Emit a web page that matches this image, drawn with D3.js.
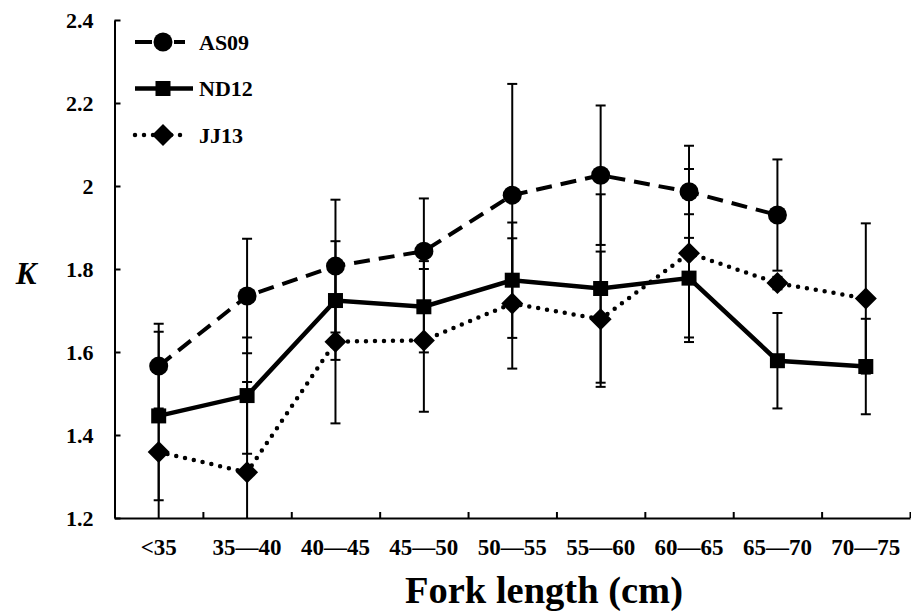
<!DOCTYPE html>
<html>
<head>
<meta charset="utf-8">
<script src="https://cdn.jsdelivr.net/npm/d3@7"></script>
<style>
  body { margin: 0; background: #fff; }
  svg text { font-family: "Liberation Serif", "Times New Roman", serif; font-weight: bold; fill: #000; }
</style>
</head>
<body>
<svg id="chart"></svg>
<script>
var width = 911;
var height = 611;

// fork length classes
var categories = ["<35", "35\u201440", "40\u201445", "45\u201450", "50\u201455", "55\u201460", "60\u201465", "65\u201470", "70\u201475"];

// condition factor K, mean and sd per class
var as09 = [1.566, 1.735, 1.807, 1.843, 1.978, 2.026, 1.986, 1.930, null];
var as09Sd = [0.102, 0.138, 0.160, 0.127, 0.268, 0.168, 0.111, 0.134, null];
var nd12 = [1.446, 1.495, 1.724, 1.709, 1.773, 1.753, 1.778, 1.579, 1.565];
var nd12Sd = [0.203, 0.140, 0.143, 0.110, 0.139, 0.227, 0.154, 0.115, 0.115];
var jj13 = [1.359, 1.310, 1.625, 1.628, 1.717, 1.679, 1.838, 1.766, 1.729];
var jj13Sd = [0.205, 0.218, 0.197, 0.172, 0.157, 0.163, 0.203, 0.015, 0.181];

var yTicks = [1.2, 1.4, 1.6, 1.8, 2, 2.2, 2.4];
var seriesNames = ["AS09", "ND12", "JJ13"];

// plot box (not "top": that name is taken by window.top)
var plotLeft = 114.5, plotRight = 910, plotTop = 20, plotBottom = 518;

var svg = d3.select("#chart")
    .attr("width", width)
    .attr("height", height);

var x = d3.scaleBand().domain(categories).range([plotLeft, plotRight]).padding(0);
var xIdx = d3.scaleLinear().domain([0, categories.length]).range([plotLeft, plotRight]);
var y = d3.scaleLinear().domain([1.2, 2.4]).range([plotBottom, plotTop]);

var series = [
    { name: seriesNames[0], mean: as09, sd: as09Sd, dash: "16,9", width: 4, cap: "butt", marker: "circle" },
    { name: seriesNames[1], mean: nd12, sd: nd12Sd, dash: null, width: 4.5, cap: "butt", marker: "square" },
    { name: seriesNames[2], mean: jj13, sd: jj13Sd, dash: "0,9", width: 4.5, cap: "round", marker: "diamond" }
];

series.forEach(function(s) {
    s.points = s.mean.map(function(m, i) {
        return { cat: categories[i], mean: m, sd: s.sd[i] };
    }).filter(function(p) { return p.mean != null; });
});

// clip for error bars hanging below the axis
svg.append("defs").append("clipPath").attr("id", "plotClip")
    .append("rect")
    .attr("x", plotLeft).attr("y", 0)
    .attr("width", plotRight - plotLeft).attr("height", plotBottom);

// error bars
var errG = svg.append("g").attr("clip-path", "url(#plotClip)")
    .attr("stroke", "#000").attr("stroke-width", 2).attr("fill", "none");

series.forEach(function(s) {
    var g = errG.append("g");
    s.points.forEach(function(p) {
        var cx = x(p.cat) + x.bandwidth() / 2;
        var y1 = y(p.mean + p.sd), y2 = y(p.mean - p.sd);
        g.append("line").attr("x1", cx).attr("x2", cx).attr("y1", y1).attr("y2", y2);
        g.append("line").attr("x1", cx - 5).attr("x2", cx + 5).attr("y1", y1).attr("y2", y1);
        g.append("line").attr("x1", cx - 5).attr("x2", cx + 5).attr("y1", y2).attr("y2", y2);
    });
});

// axes
var yAxis = d3.axisLeft(y)
    .tickValues(yTicks)
    .tickFormat(d3.format("~g"))
    .tickSize(-6)
    .tickSizeOuter(0)
    .tickPadding(21);

var yG = svg.append("g")
    .attr("transform", "translate(" + plotLeft + ",0)")
    .call(yAxis);
yG.select(".domain").attr("stroke-width", 2);
yG.selectAll(".tick line").attr("stroke-width", 2);
yG.selectAll("text").attr("font-size", 22).attr("dy", "0.34em")
    .attr("font-family", "'Liberation Serif', serif").attr("font-weight", "bold");

var xAxis = d3.axisBottom(xIdx)
    .tickValues(d3.range(1, categories.length + 1))
    .tickFormat("")
    .tickSize(-6)
    .tickSizeOuter(0);

var xG = svg.append("g")
    .attr("transform", "translate(0," + plotBottom + ")")
    .call(xAxis);
xG.select(".domain").attr("stroke-width", 2);
xG.selectAll(".tick line").attr("stroke-width", 2);

var xLab = d3.axisBottom(x).tickSize(0).tickPadding(21);
var xlG = svg.append("g")
    .attr("transform", "translate(0," + plotBottom + ")")
    .call(xLab);
xlG.select(".domain").remove();
xlG.selectAll("text").attr("font-size", 23)
    .attr("font-family", "'Liberation Serif', serif").attr("font-weight", "bold");

// lines
var line = d3.line()
    .x(function(d) { return x(d.cat) + x.bandwidth() / 2; })
    .y(function(d) { return y(d.mean); });

series.forEach(function(s) {
    svg.append("path")
        .datum(s.points)
        .attr("d", line)
        .attr("fill", "none")
        .attr("stroke", "#000")
        .attr("stroke-width", s.width)
        .attr("stroke-linecap", s.cap)
        .attr("stroke-dasharray", s.dash);
});

// markers
function drawMarker(g, type, cx, cy) {
    if (type == "circle") {
        g.append("circle").attr("cx", cx).attr("cy", cy).attr("r", 9.5).attr("fill", "#000");
    } else if (type == "square") {
        g.append("rect").attr("x", cx - 7.5).attr("y", cy - 7.5).attr("width", 15).attr("height", 15).attr("fill", "#000");
    } else {
        g.append("path")
            .attr("d", "M" + cx + "," + (cy - 11) + "L" + (cx + 11) + "," + cy + "L" + cx + "," + (cy + 11) + "L" + (cx - 11) + "," + cy + "Z")
            .attr("fill", "#000");
    }
}

series.forEach(function(s) {
    var g = svg.append("g");
    s.points.forEach(function(p) {
        drawMarker(g, s.marker, x(p.cat) + x.bandwidth() / 2, y(p.mean));
    });
});

// legend
var legend = svg.append("g");
series.forEach(function(s, i) {
    var ly = 42 + i * 46.5;
    var x2 = s.marker == "square" ? 193 : 185;
    legend.append("line")
        .attr("x1", 135).attr("x2", x2).attr("y1", ly).attr("y2", ly)
        .attr("stroke", "#000")
        .attr("stroke-width", s.width)
        .attr("stroke-linecap", s.cap)
        .attr("stroke-dasharray", s.marker == "circle" ? "17,22" : s.dash);
    drawMarker(legend, s.marker, 163, ly);
    legend.append("text")
        .attr("x", 199).attr("y", ly).attr("dy", "0.35em")
        .attr("font-size", 22)
        .text(s.name);
});

// axis titles
svg.append("text")
    .attr("x", 26).attr("y", 284)
    .attr("text-anchor", "middle")
    .attr("font-size", 31)
    .attr("font-style", "italic")
    .text("K");

svg.append("text")
    .attr("x", 544).attr("y", 603)
    .attr("text-anchor", "middle")
    .attr("font-size", 38.5)
    .text("Fork length (cm)");
</script>
</body>
</html>
